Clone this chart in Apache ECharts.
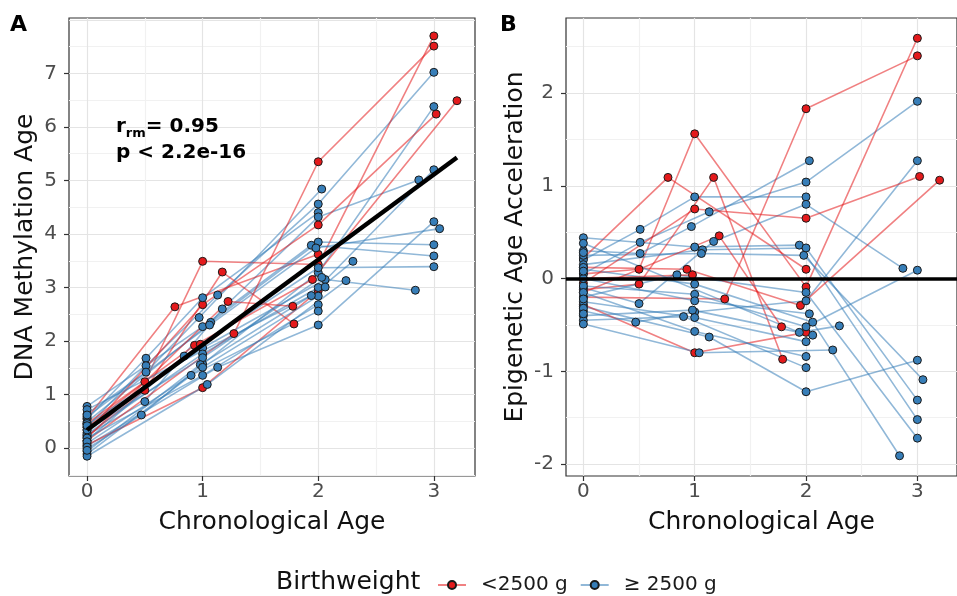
<!DOCTYPE html>
<html><head><meta charset="utf-8">
<script src="https://cdn.jsdelivr.net/npm/echarts@6/dist/echarts.min.js"></script>
<style>html,body{margin:0;padding:0;background:#fff}#c{width:957px;height:596px}</style>
</head><body><div id="c"></div>
<script>
// ---------- tick labels ----------
const xTicks = [0, 1, 2, 3];
const yTicksA = [0, 1, 2, 3, 4, 5, 6, 7];
const yTicksB = [-2, -1, 0, 1, 2];
const gridXA = [0, 0.5, 1, 1.5, 2, 2.5, 3];
const gridYA = [-0.5, 0, 0.5, 1, 1.5, 2, 2.5, 3, 3.5, 4, 4.5, 5, 5.5, 6, 6.5, 7, 7.5, 8];
const gridYB = [-2, -1.5, -1, -0.5, 0, 0.5, 1, 1.5, 2, 2.5];

// ---------- <2500 g subjects (one row per observation) ----------
const redId    = [3,3,3,3,3, 6,6,6, 9,9,9,9, 12,12,12,12, 15,15,15,15, 18,18,18, 21,21,21,21, 24,24,24, 27,27];
const redAge   = [0,0.5,1.0,2.0,3.0, 0,0.76,2.0, 0,0.5,1.17,1.79, 0,1.27,2.0,3.0, 0,1.0,2.0,3.02, 0,1.0,2.0, 0,0.93,1.95,3.2, 0,1.22,1.78, 0,0.98];
const redDnam  = [0.39,1.24,3.49,3.43,7.70, 0.56,2.64,3.62, 0.22,1.08,3.29,2.32, 0.14,2.14,5.35,7.51, 0.29,2.68,4.17,6.24, 0.06,1.13,2.94, 0.46,1.92,3.15,6.49, 0.19,2.74,2.65, 0.34,1.94];
const redAccel = [0.05,0.10,1.56,-0.09,2.59, 0.22,1.09,0.10, -0.12,-0.06,1.09,-0.87, -0.20,-0.22,1.83,2.40, -0.05,0.75,0.65,1.10, -0.28,-0.80,-0.58, 0.12,0.10,-0.29,1.06, -0.15,0.46,-0.52, 0.00,0.04];

// ---------- >= 2500 g subjects ----------
const blueId    = [1,1,1,1, 2,2,2,2,2, 4,4,4,4, 5,5,5,5,5, 7,7,7,7,7, 8,8,8,8, 10,10,10,10, 11,11,11,11, 13,13,13,13, 14,14,14,14, 16,16,16,16, 17,17,17,17, 19,19,19, 20,20,20, 22,22,22, 23,23,23, 25,25,25, 26,26,26, 28,28,28, 29, 30, 31, 32, 33, 34];
const blueAge   = [0,0.51,1.0,2.0, 0,0.51,1.13,2.0,3.0, 0,0.51,0.97,2.03, 0,0.5,1.17,2.0,2.87, 0,0.47,1.0,2.0,3.0, 0,1.0,1.94,3.0, 0,1.07,2.0,3.0, 0,1.06,1.98,3.05, 0,0.84,2.0,3.0, 0,1.0,2.06,2.84, 0,1.13,2.0,3.0, 0,1.0,2.0,3.0, 0,1.0,2.03, 0,0.98,2.06, 0,1.0,2.0, 0,1.0,2.0, 0,0.9,2.0, 0,1.04,2.24, 0,1.94,2.3, 0, 0, 0, 0, 0, 0];
const blueDnam  = [0.54,1.68,2.81,4.40, 0.39,1.54,2.86,4.56,7.02, 0.64,1.42,2.44,4.84, 0.24,0.87,2.60,4.32,5.01, -0.01,0.62,1.57,3.28,6.38, 0.78,2.27,3.79,3.59, 0.49,2.35,3.85,3.80, 0.59,2.30,3.74,4.10, 0.14,1.72,3.37,3.39, 0.44,1.87,3.15,2.95, 0.04,1.51,2.30,4.23, 0.26,1.76,3.00,5.20, 0.34,1.69,3.19, -0.06,1.56,3.01, 0.09,1.51,2.84, 0.19,1.36,2.68, -0.11,1.36,2.56, -0.15,1.19,3.13, 0.72,2.85,3.49, 0.62, 0.46, 0.12, 0.02, 0.42, -0.04];
const blueAccel = [0.20,0.53,0.88,0.88, 0.05,0.39,0.72,1.04,1.91, 0.30,0.27,0.56,1.27, -0.10,-0.27,0.40,0.80,0.11, -0.35,-0.47,-0.36,-0.24,1.27, 0.44,0.34,0.36,-1.52, 0.15,0.31,0.33,-1.31, 0.25,0.27,0.25,-1.09, -0.20,0.04,-0.15,-1.72, 0.10,-0.06,-0.47,-1.91, -0.30,-0.63,-1.22,-0.88, -0.08,-0.17,-0.52,0.09, 0.00,-0.24,-0.38, -0.40,-0.34,-0.61, -0.25,-0.42,-0.68, -0.15,-0.57,-0.84, -0.45,-0.41,-0.96, -0.49,-0.80,-0.77, 0.38,-0.58,-0.51, 0.28, 0.12, -0.22, -0.32, 0.08, -0.38];

// ---------- reference lines & annotation ----------
const fitAge = [0, 3.2];
const fitDnam = [0.34, 5.43];
const accelRef = 0;
const rrmValue = '0.95';
const pText = 'p < 2.2e-16';
const groupNames = ['<2500 g', '\u2265 2500 g'];

// ---------- build ----------
const RED = '#E41A1C', BLUE = '#377EB8';
const FONT = 'DejaVu Sans';
const chart = echarts.init(document.getElementById('c'));

function subjects(ids, xs, ys) {
  const m = new Map();
  ids.forEach((id, i) => { if (!m.has(id)) m.set(id, []); m.get(id).push([xs[i], ys[i]]); });
  return m;
}
const panels = [
  { xi: 0, yi: 0, red: subjects(redId, redAge, redDnam), blue: subjects(blueId, blueAge, blueDnam),
    redPts: redAge.map((x, i) => [x, redDnam[i]]), bluePts: blueAge.map((x, i) => [x, blueDnam[i]]) },
  { xi: 2, yi: 2, red: subjects(redId, redAge, redAccel), blue: subjects(blueId, blueAge, blueAccel),
    redPts: redAge.map((x, i) => [x, redAccel[i]]), bluePts: blueAge.map((x, i) => [x, blueAccel[i]]) }
];

const series = [];
panels.forEach(p => {
  const all = [];
  p.red.forEach((pts, id) => all.push({ id, pts, col: RED }));
  p.blue.forEach((pts, id) => all.push({ id, pts, col: BLUE }));
  all.sort((a, b) => a.id - b.id);
  all.forEach(s => {
    if (s.pts.length < 2) return;
    series.push({ type: 'line', name: 'subj' + s.id, xAxisIndex: p.xi, yAxisIndex: p.yi,
      data: s.pts, symbol: 'none', showSymbol: false, silent: true, z: 2,
      lineStyle: { color: s.col, width: 1.6, opacity: 0.55 }, emphasis: { disabled: true } });
  });
  series.push({ type: 'scatter', name: 'ptsR' + p.xi, xAxisIndex: p.xi, yAxisIndex: p.yi, data: p.redPts,
    symbolSize: 8, silent: true, z: 3, itemStyle: { color: RED, borderColor: '#1a1a1a', borderWidth: 1, opacity: 1 } });
  series.push({ type: 'scatter', name: 'ptsB' + p.xi, xAxisIndex: p.xi, yAxisIndex: p.yi, data: p.bluePts,
    symbolSize: 8, silent: true, z: 3, itemStyle: { color: BLUE, borderColor: '#1a1a1a', borderWidth: 1, opacity: 1 } });
});
// regression line (panel A)
series.push({ type: 'line', name: 'fit', xAxisIndex: 0, yAxisIndex: 0, data: fitAge.map((x, i) => [x, fitDnam[i]]),
  symbol: 'none', silent: true, z: 5, lineStyle: { color: '#000', width: 4.5 } });
// zero line (panel B)
series.push({ type: 'line', name: 'zero', xAxisIndex: 2, yAxisIndex: 2, data: [], symbol: 'none', z: 5,
  markLine: { silent: true, symbol: 'none', label: { show: false }, z: 5,
    lineStyle: { color: '#000', width: 3.5, type: 'solid' }, data: [{ yAxis: accelRef }] } });
// legend proxies
[[groupNames[0], RED], [groupNames[1], BLUE]].forEach(([n, c]) => series.push({
  type: 'line', name: n, xAxisIndex: 0, yAxisIndex: 0, data: [], symbol: 'circle', symbolSize: 8,
  itemStyle: { color: c, borderColor: '#1a1a1a', borderWidth: 1 }, lineStyle: { color: c, width: 1.6, opacity: 0.55 } }));

function primaryAxis(gi, min, max, grid, colors) {
  return { type: 'value', gridIndex: gi, min, max,
    axisLine: { show: false, onZero: false }, axisLabel: { show: false },
    axisTick: { show: false, customValues: grid },
    splitLine: { show: true, lineStyle: { color: colors, width: 1.2 } } };
}
function overlayAxis(gi, min, max, ticks, name, pos, nameGap, margin) {
  return { type: 'value', gridIndex: gi, min, max, position: pos,
    axisLine: { show: false, onZero: false },
    axisTick: { show: true, customValues: ticks, length: 5, lineStyle: { color: '#333', width: 1.2 } },
    axisLabel: { customValues: ticks, color: '#4d4d4d', fontSize: 20, fontFamily: FONT, margin },
    splitLine: { show: false },
    name, nameLocation: 'middle', nameGap,
    nameTextStyle: { fontSize: 25, color: '#111', fontFamily: FONT } };
}
const MAJ = '#e4e4e4', MIN = '#f1f1f1';
const xMin = -0.156, xMax = 3.356;

chart.setOption({
  animation: false,
  textStyle: { fontFamily: FONT },
  grid: [
    { left: 69, top: 18, width: 406, height: 458, show: true, borderColor: '#333', borderWidth: 1.2, backgroundColor: 'rgba(0,0,0,0)' },
    { left: 566, top: 18, width: 399, height: 458, show: true, borderColor: '#333', borderWidth: 1.2, backgroundColor: 'rgba(0,0,0,0)' }
  ],
  xAxis: [
    primaryAxis(0, xMin, xMax, gridXA, [MAJ, MIN]),
    overlayAxis(0, xMin, xMax, xTicks, 'Chronological Age', 'bottom', 34, 6),
    primaryAxis(1, xMin, xMax, gridXA, [MAJ, MIN]),
    overlayAxis(1, xMin, xMax, xTicks, 'Chronological Age', 'bottom', 34, 6)
  ],
  yAxis: [
    primaryAxis(0, -0.52, 8.035, gridYA, [MIN, MAJ]),
    overlayAxis(0, -0.52, 8.035, yTicksA, 'DNA Methylation Age', 'left', 31, 12),
    primaryAxis(1, -2.128, 2.808, gridYB, [MAJ, MIN]),
    overlayAxis(1, -2.128, 2.808, yTicksB, 'Epigenetic Age Acceleration', 'left', 38, 12)
  ],
  legend: {
    data: groupNames, left: 432, top: 570, itemWidth: 28, itemHeight: 10, itemGap: 12,
    selectedMode: false,
    textStyle: { fontSize: 20, color: '#1a1a1a', fontFamily: FONT, padding: [0, 0, 0, 10] }
  },
  graphic: [
    { type: 'text', left: 10, top: 14, style: { text: 'A', font: 'bold 22px "DejaVu Sans"', fill: '#000' } },
    { type: 'text', left: 500, top: 14, style: { text: 'B', font: 'bold 22px "DejaVu Sans"', fill: '#000' } },
    { type: 'text', x: 276, y: 582, style: { text: 'Birthweight', font: '25px "DejaVu Sans"', fill: '#111', verticalAlign: 'middle' } },
    { type: 'text', x: 116, y: 114, z: 10, style: {
        text: '{a|r}{s|rm}{a|= ' + rrmValue + '}\n{a|' + pText + '}',
        rich: {
          a: { fontSize: 20, fontWeight: 'bold', fontFamily: FONT, lineHeight: 26, fill: '#000' },
          s: { fontSize: 13, fontWeight: 'bold', fontFamily: FONT, lineHeight: 26, verticalAlign: 'bottom', fill: '#000' }
        } } }
  ],
  series
});
</script></body></html>
